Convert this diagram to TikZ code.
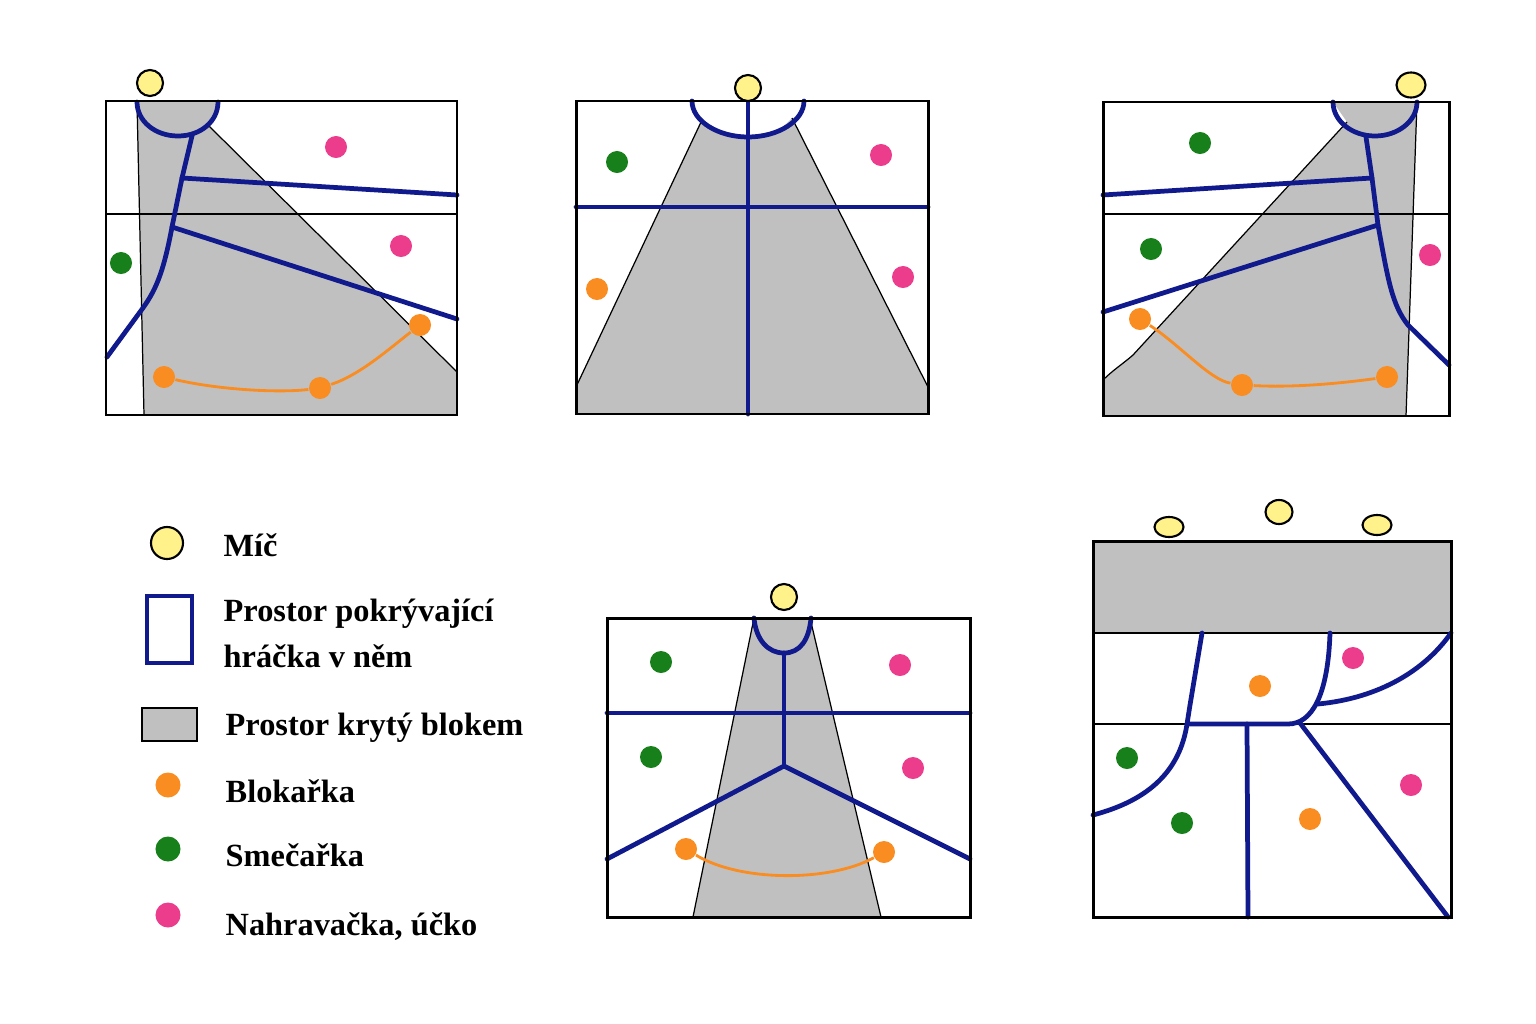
\documentclass[tikz,border=0pt]{standalone}
\usepackage{fontspec}
\setmainfont{Liberation Serif}
\usetikzlibrary{shapes.geometric}

\definecolor{modra}{RGB}{16,26,140}
\definecolor{seda}{RGB}{192,192,192}
\definecolor{zluta}{RGB}{255,242,138}
\definecolor{oranzova}{RGB}{249,141,34}
\definecolor{zelena}{RGB}{23,128,26}
\definecolor{ruzova}{RGB}{236,60,140}

\begin{document}
\begin{tikzpicture}[x=0.01cm, y=-0.01cm,
    pole/.style={draw=black, line width=0.85pt},
    cara/.style={draw=black, line width=0.55pt},
    tenka/.style={draw=black, line width=0.35pt},
    blok/.style={fill=seda},
    kryti/.style={draw=modra, line width=1.35pt, line cap=round, line join=round},
    spoj/.style={draw=oranzova, line width=0.8pt},
    mic/.style={circle, draw=black, fill=zluta, line width=0.6pt, minimum size=0.26cm, inner sep=0pt},
    hrac/.style={circle, fill=#1, minimum size=0.22cm, inner sep=0pt},
    blokarka/.style={hrac=oranzova},
    smecarka/.style={hrac=zelena},
    nahravacka/.style={hrac=ruzova},
    popis/.style={anchor=base west, inner sep=0pt, font=\bfseries\fontsize{9.2}{11}\selectfont}]
\useasboundingbox (0,0) rectangle (1536,1024);

% Hriste 1
\fill[blok] (137,102) -- (144,415) -- (457,415) -- (457,372) -- (208,125) -- (218,102) -- cycle;
\draw[cara] (106,214) -- (457,214);
\draw[tenka] (137,102) -- (144,415);
\draw[tenka] (208,125) -- (457,372);
\coordinate (a1) at (182,178);
\coordinate (a2) at (172,227);
\draw[kryti] (137,102) .. controls (137,121) and (155,136) .. (178,136) .. controls (201,136) and (218,121) .. (218,102);
\draw[kryti] (192,136) -- (a1) -- (a2) .. controls (163,275) and (155,292) .. (140,312) -- (107,357);
\draw[kryti] (a1) -- (457,195);
\draw[kryti] (a2) -- (457,319);
\draw[pole] (106,101) rectangle (457,415);
\node[mic] (m1) at (150,83) {};
\node[nahravacka] (n1) at (336,147) {};
\node[nahravacka] (n2) at (401,246) {};
\node[smecarka] (s1) at (121,263) {};
\node[blokarka] (b1) at (164,377) {};
\node[blokarka] (b2) at (320,388) {};
\node[blokarka] (b3) at (420,325) {};
\draw[spoj] (b1) .. controls (220,390) and (280,393) .. (b2) .. controls (360,375) and (390,348) .. (b3);

% Hriste 2
\fill[blok] (702,120) -- (576,387) -- (576,414) -- (928,414) -- (928,387) -- (792,118)
    .. controls (780,132) and (765,137) .. (748,137) .. controls (731,137) and (714,132) .. (702,120) -- cycle;
\draw[tenka] (702,120) -- (576,387);
\draw[tenka] (792,118) -- (928,387);
\draw[kryti] (692,101) .. controls (692,121) and (718,137) .. (748,137) .. controls (778,137) and (804,121) .. (804,101);
\draw[kryti] (576,207) -- (928,207);
\draw[kryti] (748,101) -- (748,414);
\draw[pole] (576,101) rectangle (928,414);
\node[mic] (m2) at (748,88) {};
\node[smecarka] (s2) at (617,162) {};
\node[nahravacka] (n3) at (881,155) {};
\node[blokarka] (b4) at (597,289) {};
\node[nahravacka] (n4) at (903,277) {};

% Hriste 3
\fill[blok] (1333,102) -- (1417,102) -- (1406,416) -- (1103,416) -- (1103,380)
    .. controls (1113,370) and (1124,363) .. (1133,355) -- (1347,122) -- cycle;
\draw[cara] (1103,214) -- (1449,214);
\draw[tenka] (1417,102) -- (1406,416);
\draw[tenka] (1103,380) .. controls (1113,370) and (1124,363) .. (1133,355) -- (1347,122);
\coordinate (c1) at (1372,178);
\coordinate (c2) at (1378,225);
\draw[kryti] (1333,102) .. controls (1333,121) and (1352,136) .. (1375,136) .. controls (1398,136) and (1417,121) .. (1417,102);
\draw[kryti] (1366,137) -- (c1) -- (c2) .. controls (1388,280) and (1392,305) .. (1408,325) -- (1449,365);
\draw[kryti] (c1) -- (1103,195);
\draw[kryti] (c2) -- (1103,312);
\draw[pole] (1103,102) rectangle (1449,416);
\node[mic, ellipse, minimum width=0.29cm, minimum height=0.25cm] (m3) at (1411,85) {};
\node[smecarka] (s3) at (1200,143) {};
\node[smecarka] (s4) at (1151,249) {};
\node[nahravacka] (n5) at (1430,255) {};
\node[blokarka] (b5) at (1140,319) {};
\node[blokarka] (b6) at (1242,385) {};
\node[blokarka] (b7) at (1387,377) {};
\draw[spoj] (b5) .. controls (1180,345) and (1210,380) .. (b6) .. controls (1300,388) and (1350,382) .. (b7);

% Hriste 4
\fill[blok] (754,618) -- (810,618) -- (881,917) -- (693,917) -- cycle;
\draw[tenka] (754,618) -- (693,917);
\draw[tenka] (810,618) -- (881,917);
\coordinate (d1) at (784,653);
\coordinate (d2) at (784,766);
\draw[kryti] (754,618) .. controls (756,640) and (768,653) .. (d1) .. controls (800,653) and (809,640) .. (811,618);
\draw[kryti] (607,713) -- (970,713);
\draw[kryti] (d1) -- (d2);
\draw[kryti] (607,859) -- (d2) -- (970,859);
\draw[pole] (607,618) rectangle (970,917);
\node[mic] (m4) at (784,597) {};
\node[smecarka] (s5) at (661,662) {};
\node[smecarka] (s6) at (651,757) {};
\node[nahravacka] (n6) at (900,665) {};
\node[nahravacka] (n7) at (913,768) {};
\node[blokarka] (b8) at (686,849) {};
\node[blokarka] (b9) at (884,852) {};
\draw[spoj] (b8) .. controls (740,882) and (830,882) .. (b9);

% Hriste 5
\fill[blok] (1093,541) rectangle (1451,633);
\draw[cara] (1093,633) -- (1451,633);
\draw[cara] (1093,724) -- (1451,724);
\coordinate (e1) at (1187,724);
\coordinate (e2) at (1247,724);
\coordinate (e3) at (1300,723);
\coordinate (e4) at (1318,704);
\draw[kryti] (1202,633) -- (1190,705) -- (e1) .. controls (1180,770) and (1150,800) .. (1093,815);
\draw[kryti] (e1) -- (1288,724) .. controls (1312,724) and (1328,695) .. (1330,633);
\draw[kryti] (e4) .. controls (1380,698) and (1425,670) .. (1451,633);
\draw[kryti] (e2) -- (1248,917);
\draw[kryti] (e3) -- (1448,917);
\draw[pole] (1093,541) rectangle (1451,917);
\node[mic, ellipse, minimum width=0.29cm, minimum height=0.2cm] (m5) at (1169,527) {};
\node[mic, ellipse, minimum width=0.27cm, minimum height=0.24cm] (m6) at (1279,512) {};
\node[mic, ellipse, minimum width=0.29cm, minimum height=0.2cm] (m7) at (1377,525) {};
\node[nahravacka] (n8) at (1353,658) {};
\node[blokarka] (b10) at (1260,686) {};
\node[smecarka] (s7) at (1127,758) {};
\node[smecarka] (s8) at (1182,823) {};
\node[blokarka] (b11) at (1310,819) {};
\node[nahravacka] (n9) at (1411,785) {};

% Legenda
\node[mic, minimum size=0.32cm] (l1) at (167,543) {};
\draw[modra, line width=1.3pt] (147,596) rectangle (192,663);
\draw[black, fill=seda, line width=0.7pt] (142,708) rectangle (197,741);
\node[blokarka, minimum size=0.25cm] (l4) at (168,785) {};
\node[smecarka, minimum size=0.25cm] (l5) at (168,849) {};
\node[nahravacka, minimum size=0.25cm] (l6) at (168,915) {};
\node[popis] (p1) at (223,556) {Míč};
\node[popis] (p2) at (223,621) {Prostor pokrývající};
\node[popis] (p3) at (223,667) {hráčka v něm};
\node[popis] (p4) at (225,735) {Prostor krytý blokem};
\node[popis] (p5) at (225,802) {Blokařka};
\node[popis] (p6) at (225,866) {Smečařka};
\node[popis] (p7) at (225,935) {Nahravačka, účko};
\end{tikzpicture}
\end{document}
